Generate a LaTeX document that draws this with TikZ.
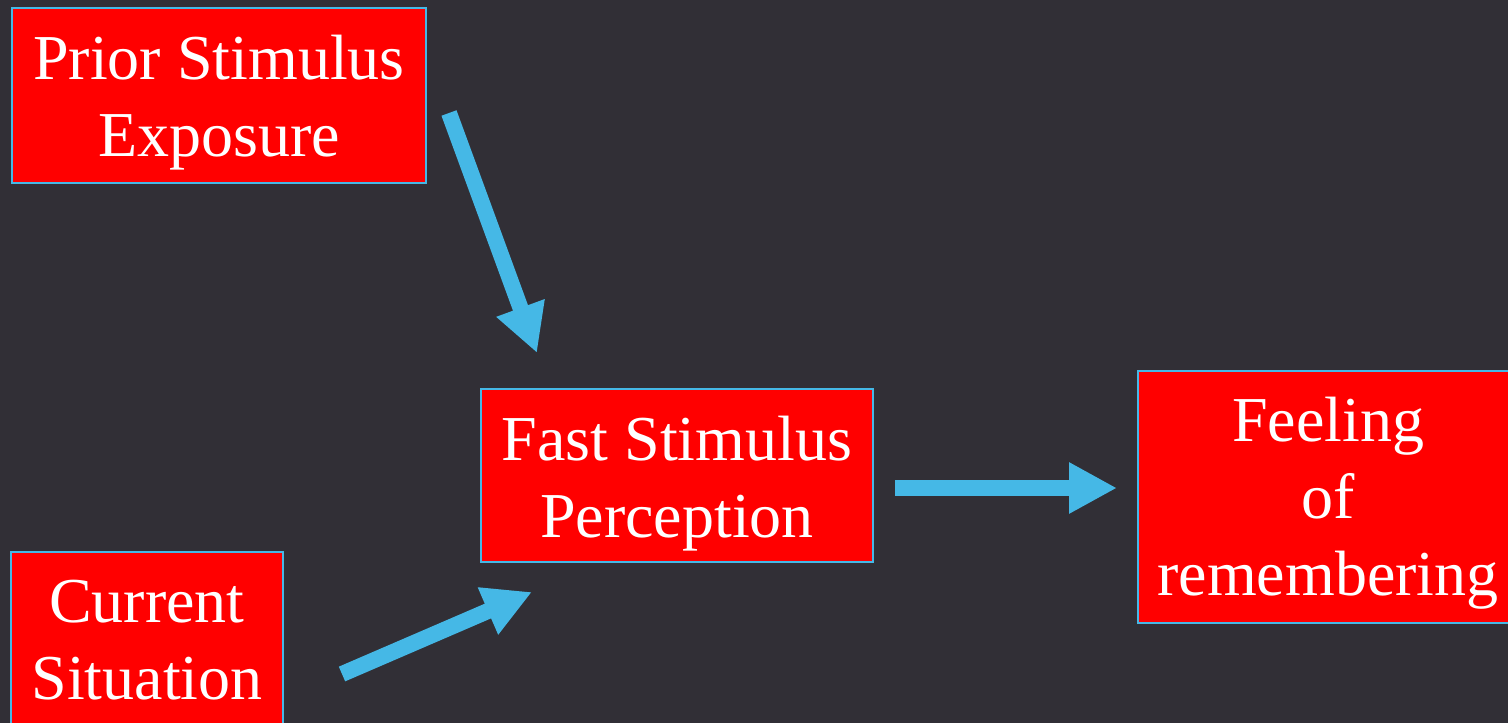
\documentclass[tikz,border=0pt]{standalone}
\usepackage{fontspec}
\setmainfont{Liberation Serif}
\usetikzlibrary{arrows.meta}
\definecolor{bg}{RGB}{49,47,54}
\definecolor{arrowblue}{RGB}{69,184,230}
\definecolor{boxred}{RGB}{255,0,0}
\tikzset{
  redbox/.style={draw=arrowblue, line width=2pt, fill=boxred, rectangle, inner sep=0pt},
  boxtext/.style={text=white, align=center, inner sep=0pt, font=\fontsize{64}{77}\selectfont},
  bigarrow/.style={draw=arrowblue, line width=16pt, -{Triangle[length=48pt,width=48pt]}}
}
\begin{document}
\begin{tikzpicture}[x=1pt,y=-1pt]
\useasboundingbox (0,0) rectangle (1508,723);
\clip (0,0) rectangle (1508,723);
\fill[bg] (0,0) rectangle (1508,723);
% boxes
\node[redbox, minimum width=414pt, minimum height=175pt] (prior) at (219,95) {};
\node[redbox, minimum width=272pt, minimum height=200pt] (current) at (147,652) {};
\node[redbox, minimum width=392pt, minimum height=173pt] (fast) at (677,475.5) {};
\node[redbox, minimum width=380pt, minimum height=252pt] (feel) at (1328,497) {};
% texts
\node[boxtext] (priort) at (219,103) {Prior Stimulus\\Exposure};
\node[boxtext] (currentt) at (147,640) {Current\\Situation};
\node[boxtext] (fastt) at (677,484) {Fast Stimulus\\Perception};
\node[boxtext] (feelt) at (1328,503.5) {Feeling\\of\\remembering};
% arrow end points
\coordinate (a1s) at (449,113);
\coordinate (a1e) at (537,353);
\coordinate (a2s) at (342,674);
\coordinate (a2e) at (532,592);
\coordinate (a3s) at (895,488);
\coordinate (a3e) at (1117,488);
\draw[bigarrow] (a1s) -- (a1e);
\draw[bigarrow] (a2s) -- (a2e);
\draw[bigarrow] (a3s) -- (a3e);
\end{tikzpicture}
\end{document}
